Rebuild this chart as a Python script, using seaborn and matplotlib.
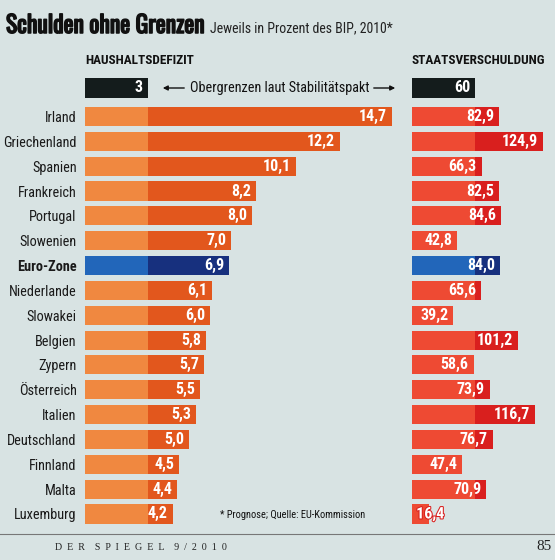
import matplotlib
matplotlib.use('Agg')
import matplotlib.pyplot as plt
import matplotlib.patheffects as pe
from matplotlib.patches import FancyArrowPatch
import pandas as pd
import seaborn as sns

countries = ['Irland', 'Griechenland', 'Spanien', 'Frankreich', 'Portugal', 'Slowenien',
             'Euro-Zone', 'Niederlande', 'Slowakei', 'Belgien', 'Zypern', 'Österreich',
             'Italien', 'Deutschland', 'Finnland', 'Malta', 'Luxemburg']
deficit = [14.7, 12.2, 10.1, 8.2, 8.0, 7.0, 6.9, 6.1, 6.0, 5.8, 5.7, 5.5, 5.3, 5.0, 4.5, 4.4, 4.2]
debt = [82.9, 124.9, 66.3, 82.5, 84.6, 42.8, 84.0, 65.6, 39.2, 101.2, 58.6, 73.9, 116.7,
        76.7, 47.4, 70.9, 16.4]
deficit_limit = 3
debt_limit = 60
highlight = 'Euro-Zone'

BG = '#d8e3e3'
plt.rcParams['font.family'] = ['Roboto Condensed', 'DejaVu Sans']
SERIF = ['Liberation Serif', 'DejaVu Serif']
TITLE = ['Oswald', 'Roboto Condensed', 'DejaVu Sans']

data = pd.DataFrame({'land': countries, 'defizit': deficit, 'schulden': debt})
data['defizit_bis'] = data['defizit'].clip(upper=deficit_limit)
data['schulden_bis'] = data['schulden'].clip(upper=debt_limit)

dark = {'defizit': '#e2571d', 'schulden': '#d91f1e'}
light = {'defizit': '#f08840', 'schulden': '#ee4a33'}


def fmt(v):
    return f'{v:.1f}'.replace('.', ',')


fig = plt.figure(figsize=(5.55, 5.6), dpi=100, facecolor=BG)
W, H = 555, 560


def px_axes(x0, y0, x1, y1):
    ax = fig.add_axes([x0 / W, 1 - y1 / H, (x1 - x0) / W, (y1 - y0) / H])
    ax.set_facecolor('none')
    for s in ax.spines.values():
        s.set_visible(False)
    return ax


ax_l = px_axes(85, 70, 398, 530)
ax_r = px_axes(412, 70, 555, 530)

panels = [(ax_l, 'defizit', 15.0, deficit_limit), (ax_r, 'schulden', 136.2, debt_limit)]
for ax, col, xmax, lim in panels:
    pal_dark = {c: ('#17307e' if c == highlight else dark[col]) for c in countries}
    pal_light = {c: ('#2266ba' if c == highlight else light[col]) for c in countries}
    sns.barplot(data=data, x=col, y='land', hue='land', palette=pal_dark, legend=False,
                width=0.77, saturation=1, ax=ax, orient='h')
    sns.barplot(data=data, x=col + '_bis', y='land', hue='land', palette=pal_light,
                legend=False, width=0.77, saturation=1, ax=ax, orient='h')
    ax.set_xlim(0, xmax)
    ax.set_ylim(16.646, -1.872)
    ax.set_xlabel('')
    ax.set_ylabel('')
    ax.set_xticks([])
    for i, v in enumerate(data[col]):
        if col == 'schulden' and v < 30:
            t = ax.annotate(fmt(v), (0, i), xytext=(3, 0), textcoords='offset points',
                            ha='left', va='center', color='white', fontsize=11.5,
                            fontweight='bold')
            t.set_path_effects([pe.withStroke(linewidth=1.5, foreground=dark[col])])
        else:
            ax.annotate(fmt(v), (v, i), xytext=(-3.5, 0), textcoords='offset points',
                        ha='right', va='center', color='white', fontsize=11.5,
                        fontweight='bold')

ax_l.tick_params(axis='y', length=0, pad=6, labelsize=10.3)
for lab in ax_l.get_yticklabels():
    lab.set_color('#1a1a1a')
    if lab.get_text() == highlight:
        lab.set_fontweight('bold')
ax_r.set_yticks([])

# limit bars
lim_l = px_axes(85, 78, 398, 98)
lim_r = px_axes(412, 78, 555, 98)
for ax, v, xmax in [(lim_l, deficit_limit, 15.0), (lim_r, debt_limit, 136.2)]:
    sns.barplot(x=[v], y=['limit'], color='#141c1c', width=1, saturation=1, ax=ax, orient='h')
    ax.set_xlim(0, xmax)
    ax.set_ylim(0.5, -0.5)
    ax.set_axis_off()
    ax.annotate(str(v), (v, 0), xytext=(-3.5, 0), textcoords='offset points', ha='right',
                va='center', color='white', fontsize=11.5, fontweight='bold')

# texts
title = fig.text(6 / W, 1 - 33 / H, 'Schulden ohne Grenzen', fontsize=17, fontweight='bold',
                 family=TITLE, color='#111', va='baseline', ha='left')
title.set_path_effects([pe.withStroke(linewidth=1.1, foreground='#111')])
fig.text(210 / W, 1 - 32 / H, 'Jeweils in Prozent des BIP, 2010*', fontsize=10,
         color='#222', va='baseline', ha='left')
fig.text(85 / W, 1 - 60.5 / H, 'HAUSHALTSDEFIZIT', fontsize=9.5, fontweight='bold',
         color='#111', va='center', ha='left')
fig.text(412 / W, 1 - 60.5 / H, 'STAATSVERSCHULDUNG', fontsize=9.5, fontweight='bold',
         color='#111', va='center', ha='left')
fig.text(279.5 / W, 1 - 88 / H, 'Obergrenzen laut Stabilitätspakt', fontsize=10.3,
         color='#111', va='center', ha='center')
for x0, x1 in [(187, 160), (371, 398)]:
    fig.patches.append(FancyArrowPatch(
        (x0 / W, 1 - 88 / H), (x1 / W, 1 - 88 / H), transform=fig.transFigure,
        arrowstyle='-|>', mutation_scale=7, color='#111', lw=1))
fig.text(220 / W, 1 - 515 / H, '* Prognose; Quelle: EU-Kommission', fontsize=7.5,
         color='#111', va='center', ha='left')
fig.add_artist(plt.Line2D([0, 1], [1 - 534 / H, 1 - 534 / H], transform=fig.transFigure,
                          color='#777', lw=0.8))
fig.text(55 / W, 1 - 547 / H, 'D  E  R    S  P  I  E  G  E  L    9  /  2  0  1  0',
         fontsize=7.2, family=SERIF, color='#222', va='center', ha='left')
fig.text(552 / W, 1 - 547 / H, '85', fontsize=11, family=SERIF,
         color='#222', va='center', ha='right')

fig.savefig('out.png', dpi=100, facecolor=BG)
